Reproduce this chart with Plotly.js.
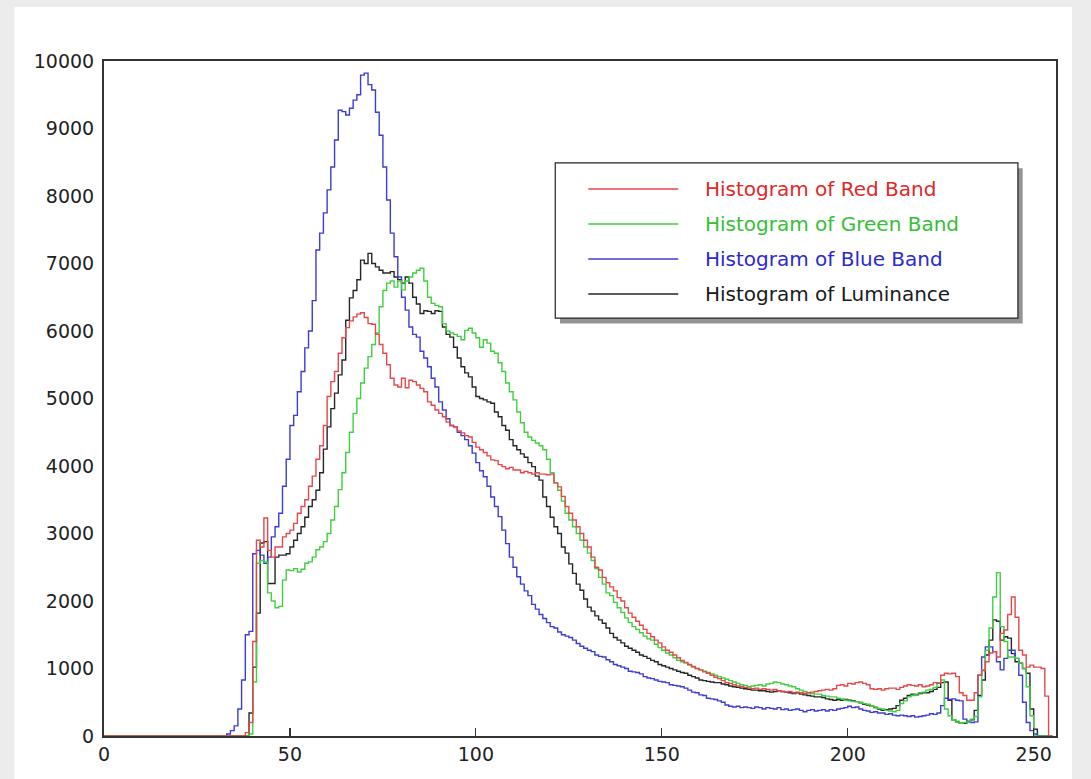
<!DOCTYPE html>
<html>
<head>
<meta charset="utf-8">
<script src="https://cdn.plot.ly/plotly-3.0.1.min.js"></script>
<style>
  html, body { margin: 0; padding: 0; background: #ececec; }
  #chart { width: 1091px; height: 779px; }
</style>
</head>
<body>
<div id="chart"></div>
<script>
// ---- Data (counts per grey level 0..255) ----
const seriesNames = ["Histogram of Red Band", "Histogram of Green Band", "Histogram of Blue Band", "Histogram of Luminance"];
const xTicks = [0, 50, 100, 150, 200, 250];
const yTicks = [0, 1000, 2000, 3000, 4000, 5000, 6000, 7000, 8000, 9000, 10000];

const redBand = [
  0,0,0,0,0,0,0,0,0,0,0,0,0,0,0,0,
  0,0,0,0,0,0,0,0,0,0,0,0,0,0,0,0,
  0,0,0,0,0,0,50,200,1400,2900,2800,3230,2750,2650,2800,2800,
  2950,3000,3050,3150,3300,3400,3500,3700,3850,4100,4300,4600,5030,5250,5400,5670,
  5900,6050,6150,6210,6250,6270,6200,6110,6100,5950,5800,5670,5500,5300,5200,5170,
  5300,5160,5270,5250,5200,5150,5100,4950,4900,4830,4780,4730,4650,4600,4580,4520,
  4490,4450,4430,4350,4280,4240,4200,4150,4090,4080,4020,3990,3960,3980,3940,3940,
  3900,3920,3900,3880,3900,3880,3880,3870,3880,3750,3690,3550,3400,3300,3200,3100,
  3000,2900,2800,2650,2500,2460,2350,2270,2210,2150,2050,2000,1900,1820,1760,1700,
  1640,1580,1520,1470,1420,1380,1320,1270,1240,1200,1160,1120,1090,1060,1030,1000,
  980,950,930,900,870,850,820,790,780,760,740,730,720,710,700,710,
  690,700,690,680,690,670,660,650,660,640,650,640,630,640,650,660,
  670,680,690,680,700,750,760,740,780,770,790,800,780,760,700,690,
  700,680,700,710,710,690,720,740,760,750,740,760,730,740,760,790,
  780,900,930,920,930,880,640,600,530,530,640,900,970,1100,1230,1250,
  1170,1520,1570,1800,2060,1760,1270,1200,1020,1050,1020,1020,1000,590,0,0
];

const greenBand = [
  0,0,0,0,0,0,0,0,0,0,0,0,0,0,0,0,
  0,0,0,0,0,0,0,0,0,0,0,0,0,0,0,0,
  0,0,0,0,0,0,0,30,800,2560,2600,2580,2120,2000,1900,1920,
  2310,2460,2450,2480,2430,2470,2560,2580,2650,2760,2800,2880,3000,3200,3400,3650,
  3900,4200,4500,4780,5000,5230,5450,5620,5800,5970,6360,6600,6710,6740,6650,6740,
  6610,6740,6800,6860,6900,6930,6740,6500,6410,6380,6360,6110,6000,5970,5950,5920,
  5870,6010,6040,5970,5900,5760,5870,5820,5700,5670,5530,5400,5230,5100,4980,4800,
  4640,4500,4430,4380,4340,4300,4240,4100,3900,3750,3640,3480,3300,3200,3100,3000,
  2900,2800,2710,2600,2480,2350,2250,2120,2080,1980,1900,1830,1750,1680,1620,1580,
  1530,1480,1440,1420,1360,1310,1270,1230,1200,1160,1120,1100,1080,1050,1020,1000,
  980,960,940,920,900,880,860,840,820,800,780,760,750,730,740,750,
  760,740,770,780,800,790,770,760,740,730,700,680,660,640,630,620,
  620,600,590,580,580,560,550,530,520,510,510,500,480,470,440,430,
  410,400,380,370,360,380,480,520,580,600,620,640,650,680,690,720,
  790,830,400,300,240,220,190,200,210,250,290,580,980,1270,1600,2060,
  2420,1620,1400,1170,1170,1150,1080,1000,730,300,0,0,0,0,0,0
];

const blueBand = [
  0,0,0,0,0,0,0,0,0,0,0,0,0,0,0,0,
  0,0,0,0,0,0,0,0,0,0,0,0,0,0,0,0,
  0,30,80,150,400,830,1500,1550,2700,2750,2680,2560,2650,2950,3100,3300,
  3700,4100,4600,4750,5100,5400,5750,6000,6450,7200,7450,7750,8090,8430,8830,9270,
  9250,9200,9300,9420,9500,9790,9820,9650,9570,9240,8900,8430,7940,7450,7100,6800,
  6500,6310,6060,5950,5910,5700,5600,5470,5300,5170,4950,4830,4700,4600,4580,4500,
  4450,4390,4300,4190,4050,3930,3840,3700,3540,3400,3250,3050,2850,2650,2500,2360,
  2250,2150,2080,1950,1880,1800,1740,1680,1620,1600,1540,1500,1480,1460,1420,1370,
  1330,1300,1270,1250,1200,1180,1170,1130,1100,1060,1040,1020,1000,960,950,940,
  920,880,860,850,830,810,800,790,760,750,740,730,710,680,650,640,
  610,600,560,550,540,520,500,460,440,430,440,420,430,420,410,430,
  420,400,420,410,400,420,390,400,380,390,400,380,360,380,390,370,
  380,390,370,390,380,400,410,420,440,420,430,400,380,370,350,360,
  340,340,320,330,310,300,310,300,290,300,280,290,300,310,330,320,
  340,450,560,540,550,530,520,250,220,200,210,900,1170,1320,1320,1250,
  1100,980,1150,1270,1270,1150,900,500,200,80,30,0,0,0,0,0
];

const luminance = [
  0,0,0,0,0,0,0,0,0,0,0,0,0,0,0,0,
  0,0,0,0,0,0,0,0,0,0,0,0,0,0,0,0,
  0,0,0,0,0,0,0,340,1020,1820,2860,2880,2260,2260,2650,2680,
  2680,2700,2800,2900,3000,3100,3240,3400,3500,3640,3900,4250,4580,4850,5080,5350,
  5570,6160,6490,6600,6760,7050,7000,7150,7000,6950,6900,6860,6860,6880,6800,6760,
  6710,6800,6710,6500,6400,6260,6300,6290,6260,6300,6290,6060,5950,5910,5760,5600,
  5470,5380,5320,5170,5030,5000,4980,4950,4930,4800,4730,4600,4530,4390,4300,4240,
  4180,4130,4050,3990,3850,3790,3540,3400,3240,3100,3000,2800,2710,2550,2410,2250,
  2160,2030,1910,1850,1780,1720,1670,1600,1520,1460,1420,1380,1330,1300,1270,1240,
  1200,1180,1150,1120,1100,1060,1040,1020,1000,980,960,940,930,900,880,860,
  830,820,810,800,790,790,770,760,740,730,720,710,700,690,680,680,
  670,670,660,650,660,670,660,650,640,630,640,620,610,600,590,580,
  580,570,550,540,530,540,530,540,530,520,510,490,470,460,440,420,
  400,380,390,400,410,450,530,560,600,620,610,630,640,640,660,690,
  720,790,800,530,240,210,190,190,210,240,380,600,830,1200,1420,1720,
  1700,1420,1470,1450,1220,1100,1080,1000,930,400,100,0,0,0,0,0
];

// grey levels (bin positions)
const levels = redBand.map((_, i) => i);

// ---- Styles ----
const lineColors = ["#e5484a", "#3fcf3f", "#3c3cd6", "#262626"];
const textColors = ["#e02828", "#35c035", "#2a2ad0", "#1a1a1a"];
const FONT = "DejaVu Sans, Liberation Sans, Arial, sans-serif";

const values = [redBand, greenBand, blueBand, luminance];
const drawOrder = [3, 2, 1, 0]; // luminance, blue, green, red (red on top)

const traces = drawOrder.map(k => ({
  type: "scatter",
  mode: "lines",
  x: levels,
  y: values[k],
  name: seriesNames[k],
  line: { color: lineColors[k], width: 1.4, shape: "hv" },
  showlegend: false,
  hoverinfo: "x+y+name"
}));

// ---- Manual legend (box with shadow, long line samples, coloured labels) ----
const L = { x0: 0.474, x1: 0.960, yTop: 0.849, yBot: 0.619 };
const rowY = [0.8104, 0.7585, 0.7067, 0.6548];
const lineX = [0.5087, 0.6032];
const textX = 0.6295;

const shapes = [
  // white page area over the grey surround
  { type: "rect", xref: "paper", yref: "paper", x0: -0.094, x1: 1.0168, y0: -0.07, y1: 1.08,
    fillcolor: "#ffffff", line: { width: 0 }, layer: "below" },
  // legend shadow
  { type: "rect", xref: "paper", yref: "paper", x0: L.x0 + 0.005, x1: L.x1 + 0.005, y0: L.yBot - 0.008, y1: L.yTop - 0.008,
    fillcolor: "rgba(60,60,60,0.55)", line: { width: 0 } },
  // legend box
  { type: "rect", xref: "paper", yref: "paper", x0: L.x0, x1: L.x1, y0: L.yBot, y1: L.yTop,
    fillcolor: "#ffffff", line: { color: "#222222", width: 1.2 } }
];
rowY.forEach((y, k) => {
  shapes.push({ type: "line", xref: "paper", yref: "paper", x0: lineX[0], x1: lineX[1], y0: y, y1: y,
    line: { color: lineColors[k], width: 1.5 } });
});
const annotations = rowY.map((y, k) => ({
  xref: "paper", yref: "paper", x: textX, y: y, xanchor: "left", yanchor: "middle",
  text: seriesNames[k], showarrow: false,
  font: { family: FONT, size: 20, color: textColors[k] }
}));

const layout = {
  width: 1091, height: 779,
  margin: { l: 104, r: 35, t: 61, b: 43 },
  paper_bgcolor: "#ececec",
  plot_bgcolor: "#ffffff",
  showlegend: false,
  xaxis: {
    range: [0, 256], tickvals: xTicks, ticktext: xTicks.map(String),
    ticks: "inside", ticklen: 8, tickwidth: 1.2, tickcolor: "#333333",
    showline: true, mirror: true, linecolor: "#333333", linewidth: 2,
    showgrid: false, zeroline: false,
    tickfont: { family: FONT, size: 19, color: "#222222" }
  },
  yaxis: {
    range: [0, 10000], tickvals: yTicks, ticktext: yTicks.map(String),
    ticks: "", showline: true, mirror: true, linecolor: "#333333", linewidth: 2,
    showgrid: false, zeroline: false, ticklabelstandoff: 4,
    tickfont: { family: FONT, size: 19, color: "#222222" }
  },
  shapes: shapes,
  annotations: annotations
};

Plotly.newPlot("chart", traces, layout, { displayModeBar: false, staticPlot: true });
</script>
</body>
</html>
